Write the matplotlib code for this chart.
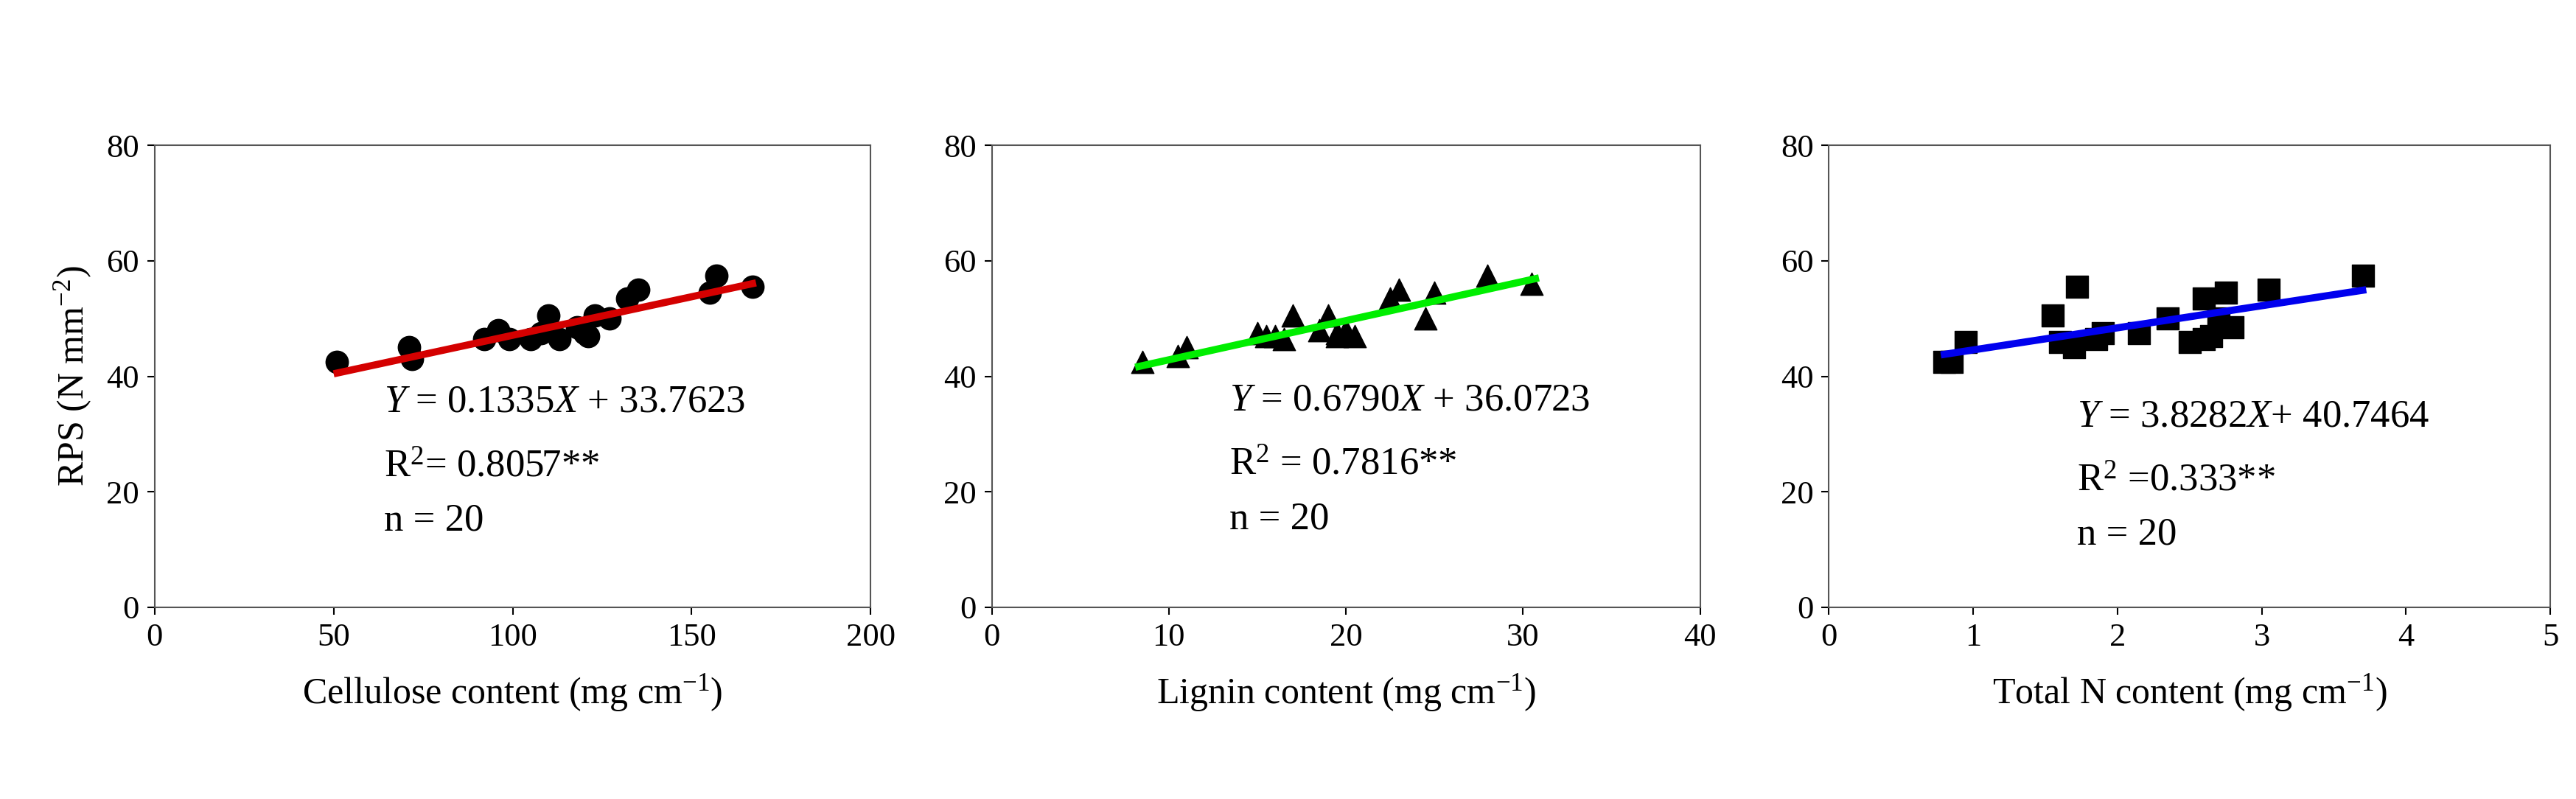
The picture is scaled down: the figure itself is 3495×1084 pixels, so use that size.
import numpy as np
import matplotlib.pyplot as plt

plt.rcParams['font.family'] = ['Liberation Serif', 'DejaVu Serif']
plt.rcParams['mathtext.fontset'] = 'custom'
plt.rcParams['mathtext.rm'] = 'Liberation Serif'
plt.rcParams['mathtext.it'] = 'Liberation Serif:italic'

# data
cell_x = [51, 71, 72, 92, 96, 99, 105, 108, 110, 113, 118, 120, 121, 123, 127, 132, 135, 155, 157, 167]
cell_y = [42.5, 45, 43, 46.5, 48, 46.5, 46.5, 47.5, 50.5, 46.5, 48.5, 47.5, 47, 50.5, 50, 53.5, 55, 54.5, 57.5, 55.5]
lig_x = [8.5, 10.5, 11, 15, 15.5, 16, 16.5, 17, 18.5, 19, 19.5, 19.5, 20, 20.5, 22.5, 23, 24.5, 25, 28, 30.5]
lig_y = [42.5, 43.5, 45, 47.5, 47, 47, 46.5, 50.5, 48, 50.5, 47, 47.5, 48, 47, 53.5, 55, 50, 54.5, 57.5, 56]
tn_x = [0.8, 0.85, 0.95, 1.55, 1.6, 1.7, 1.72, 1.85, 1.9, 2.15, 2.35, 2.5, 2.6, 2.6, 2.65, 2.7, 2.75, 2.8, 3.05, 3.7]
tn_y = [42.5, 42.5, 46, 50.5, 46, 45, 55.5, 46.5, 47.5, 47.5, 50, 46, 46.5, 53.5, 47, 50, 54.5, 48.5, 55, 57.5]

slopes = [0.1335, 0.6790, 3.8282]
intercepts = [33.7623, 36.0723, 40.7464]
fit_ranges = [(51, 167), (8.3, 30.7), (0.8, 3.7)]
eqs = [r'$Y$ = 0.1335$X$ + 33.7623', r'$Y$ = 0.6790$X$ + 36.0723', r'$Y$ = 3.8282$X$+ 40.7464']
r2s = [r'R$^2$= 0.8057**', r'R$^2$ = 0.7816**', r'R$^2$ =0.333**']
xlabels = [r'Cellulose content (mg cm$^{-1}$)', r'Lignin content (mg cm$^{-1}$)', r'Total N content (mg cm$^{-1}$)']
xmax = [200, 40, 5]
xticks = [[0, 50, 100, 150, 200], [0, 10, 20, 30, 40], [0, 1, 2, 3, 4, 5]]
markers = ['o', '^', 's']
colors = ['#d40000', '#00ee00', '#0000ee']
text_pos = [(64, 35.5), (13.4, 35.8), (1.72, 33)]

fig = plt.figure(figsize=(34.95, 10.84), dpi=100)
lefts = [0.060, 0.385, 0.710]
widths = [0.278, 0.275, 0.280]
xs = [cell_x, lig_x, tn_x]
ys = [cell_y, lig_y, tn_y]

for i in range(3):
    ax = fig.add_axes([lefts[i], 0.24, widths[i], 0.578])
    ax.scatter(xs[i], ys[i], marker=markers[i], s=480, color='black', zorder=2)
    fx = np.array(fit_ranges[i])
    ax.plot(fx, slopes[i] * fx + intercepts[i], color=colors[i], lw=7, zorder=3)
    ax.set_xlim(0, xmax[i])
    ax.set_ylim(0, 80)
    ax.set_xticks(xticks[i])
    ax.set_yticks([0, 20, 40, 60, 80])
    ax.tick_params(labelsize=32, direction='out', length=7, width=1.5, pad=8)
    for s in ax.spines.values():
        s.set_linewidth(1.5)
        s.set_color('#555555')
    ax.set_xlabel(xlabels[i], fontsize=36, labelpad=20)
    tx, ty = text_pos[i]
    ax.text(tx, ty, eqs[i], fontsize=38, va='center')
    ax.text(tx, ty - 11.2, r2s[i], fontsize=38, va='center')
    ax.text(tx, ty - 20.5, 'n = 20', fontsize=38, va='center')
    if i == 0:
        ax.set_ylabel(r'RPS (N mm$^{-2}$)', fontsize=36, labelpad=12)

fig.savefig('out.png', dpi=100)
